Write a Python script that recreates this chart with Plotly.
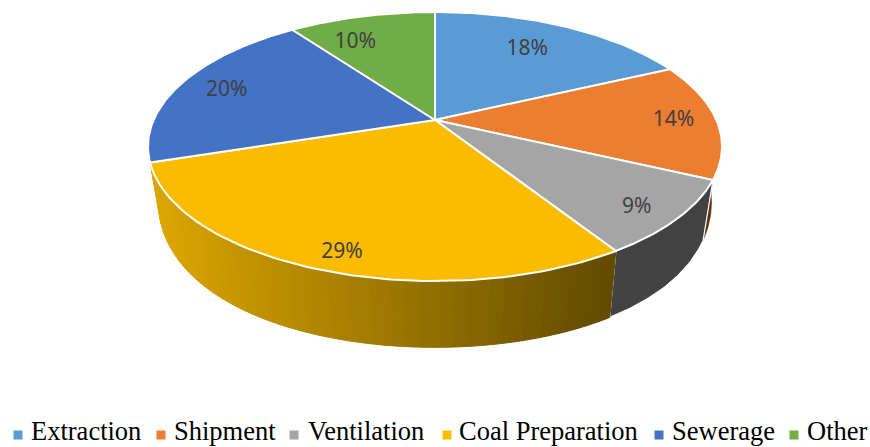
import numpy as np
import plotly.graph_objects as go

categories = ["Extraction", "Shipment", "Ventilation", "Coal Preparation", "Sewerage", "Other"]
shares = [18, 14, 9, 29, 20, 10]
colors = ["#5B9BD5", "#ED7D31", "#A5A5A5", "#FBBC00", "#4472C4", "#70AD47"]

# projection of the tilted disc (pixel space of the 870x447 page)
CX, TOP_CY, TOP_A, TOP_B, TOP_P = 435.0, 120.0, 129.3, 281.4, 0.197
BOT_CY, BOT_A, BOT_B, BOT_PX, BOT_PY = 168.0, 165.0, 271.0, 0.2, 0.08


def top(theta, r=1.0):
    t = np.radians(theta)
    d = 1 + TOP_P * r * np.cos(t)
    return CX + TOP_B * r * np.sin(t) / d, TOP_CY - TOP_A * r * np.cos(t) / d


def bottom(theta):
    t = np.radians(theta)
    return (CX + BOT_B * np.sin(t) / (1 + BOT_PX * np.cos(t)),
            BOT_CY - BOT_A * np.cos(t) / (1 + BOT_PY * np.cos(t)))


def wall(a, b, n=40):
    th = np.linspace(a, b, n)
    x1, y1 = top(th)
    x2, y2 = bottom(th[::-1])
    return np.r_[x1, x2, x1[0]], np.r_[y1, y2, y1[0]]


edges = np.cumsum([0] + shares) / sum(shares) * 360
fig = go.Figure()


def poly(x, y, fill, line, width):
    fig.add_trace(go.Scatter(x=x, y=y, mode="lines", fill="toself", fillcolor=fill,
                             line=dict(color=line, width=width), hoverinfo="skip", showlegend=False))


# walls
poly(*wall(85, edges[2]), "#5F3311", "#5F3311", 0.5)
poly(*wall(edges[2], edges[3]), "#424242", "#FFFFFF", 1.2)
steps = np.linspace(edges[3], edges[4], 90)
for a, b in zip(steps[:-1], steps[1:]):
    x, y = wall(a, b, 3)
    f = np.clip((x.mean() - 150) / 460, 0, 1)
    c = "rgb(%d,%d,0)" % (222 + f * (98 - 222), 168 + f * (75 - 168))
    poly(x, y, c, c, 1)

# top surface
for a, b, c in zip(edges[:-1], edges[1:], colors):
    th = np.linspace(a, b, 80)
    x, y = top(th)
    poly(np.r_[CX, x, CX], np.r_[TOP_CY, y, TOP_CY], c, "#FFFFFF", 2)

# percentage labels
LABEL_R = [0.74, 0.85, 0.86, 0.88, 0.82, 0.78]
LABEL_TURN = [-2.5, -1, 1, -1.5, 0.5, -6.5]
LABEL_DROP = 3
mids = (edges[:-1] + edges[1:]) / 2 + np.array(LABEL_TURN)
lx, ly = top(mids, np.array(LABEL_R))
fig.add_trace(go.Scatter(x=lx, y=ly + LABEL_DROP, mode="text", text=[f"{v}%" for v in shares],
                         textposition="middle center", hoverinfo="skip", showlegend=False,
                         textfont=dict(family="Noto Sans", size=21, color="#404040")))

# colour key along the bottom edge
KEY_Y = 433
KEY_MARK_X = [18, 161, 294, 447, 659, 794]
KEY_TEXT_X = [31, 174, 308, 459, 672, 807]
fig.add_trace(go.Scatter(x=KEY_MARK_X, y=[KEY_Y + 2] * 6, mode="markers", hoverinfo="skip", showlegend=False,
                         marker=dict(symbol="square", size=9, color=colors)))
fig.add_trace(go.Scatter(x=KEY_TEXT_X, y=[KEY_Y] * 6, mode="text", text=categories,
                         textposition="middle right", hoverinfo="skip", showlegend=False,
                         textfont=dict(family="Liberation Serif", size=26.5, color="#000000")))

fig.update_layout(
    width=870, height=447, margin=dict(l=0, r=0, t=0, b=0),
    paper_bgcolor="#FFFFFF", plot_bgcolor="#FFFFFF", showlegend=False,
    xaxis=dict(range=[0, 870], visible=False),
    yaxis=dict(range=[447, 0], visible=False),
)
fig.write_html("out.html", config=dict(displayModeBar=False),
               post_script="document.body.style.margin='0';document.documentElement.style.overflow='hidden';")
